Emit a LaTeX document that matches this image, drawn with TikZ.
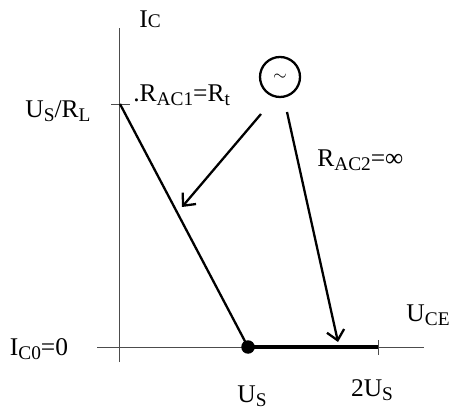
\documentclass[tikz,border=0pt]{standalone}
\usepackage{fontspec}
\setmainfont{Liberation Serif}
\usetikzlibrary{arrows.meta}

\newcommand{\lsub}[1]{\raisebox{-0.16em}{\fontsize{11}{12}\selectfont #1}}

\tikzset{
	axis/.style={gray!60!black, line width=0.55pt},
	load/.style={line width=1.3pt},
	sig/.style={line width=1.3pt, -{Straight Barb[length=5.5pt,width=10pt,line width=1.3pt]}},
	lbl/.style={inner sep=0pt, font=\fontsize{14.5}{16}\selectfont},
	qdot/.style={circle, fill, inner sep=0pt, minimum size=0.27cm}
}

\begin{document}
\begin{tikzpicture}
		\useasboundingbox (0,0) rectangle (9.04,8.2);

		% axes
		\coordinate (ybot) at (2.38,0.96);
		\coordinate (ytop) at (2.38,7.64);
		\coordinate (xleft) at (1.94,1.26);
		\coordinate (xright) at (8.48,1.26);
		\draw[axis] (ybot) -- (ytop);
		\draw[axis] (xleft) -- (xright);

		% ticks
		\coordinate (tka) at (2.22,6.12);
		\coordinate (tkb) at (2.60,6.12);
		\draw[axis] (tka) -- (tkb);
		\coordinate (tkc) at (7.56,1.40);
		\coordinate (tkd) at (7.56,1.10);
		\draw[axis] (tkc) -- (tkd);

		% load lines
		\coordinate (ltop) at (2.40,6.12);
		\node[qdot] (q) at (4.96,1.26) {};
		\coordinate (lend) at (7.56,1.26);
		\draw[load] (ltop) -- (q.center);
		\draw[line width=1.9pt] (q.center) -- (lend);

		% source
		\node[draw, circle, line width=1.3pt, minimum size=0.8cm, inner sep=0pt] (src) at (5.60,6.66) {\fontsize{10}{10}\selectfont $\sim$};

		\coordinate (aa) at (5.22,5.92);
		\coordinate (ab) at (3.64,4.06);
		\draw[sig] (aa) -- (ab);
		\coordinate (ba) at (5.74,5.96);
		\coordinate (bb) at (6.76,1.36);
		\draw[sig] (ba) -- (bb);

		% labels
		\node[lbl] (ic) at (3.0,7.82) {I{\fontsize{11}{12}\selectfont C}};
		\node[lbl] (usrl) at (1.16,5.98) {U\lsub{S}/R\lsub{L}};
		\node[lbl, anchor=west] (rac1) at (2.66,6.30) {.R\lsub{AC1}=R\lsub{t}};
		\node[lbl, anchor=west] (rac2) at (6.34,5.0) {R\lsub{AC2}=∞};
		\node[lbl] (uce) at (8.56,1.90) {U\lsub{CE}};
		\node[lbl] (ic0) at (0.78,1.22) {I\lsub{C0}=0};
		\node[lbl] (us) at (5.04,0.28) {U\lsub{S}};
		\node[lbl] (tus) at (7.44,0.40) {2U\lsub{S}};

	\end{tikzpicture}
\end{document}
